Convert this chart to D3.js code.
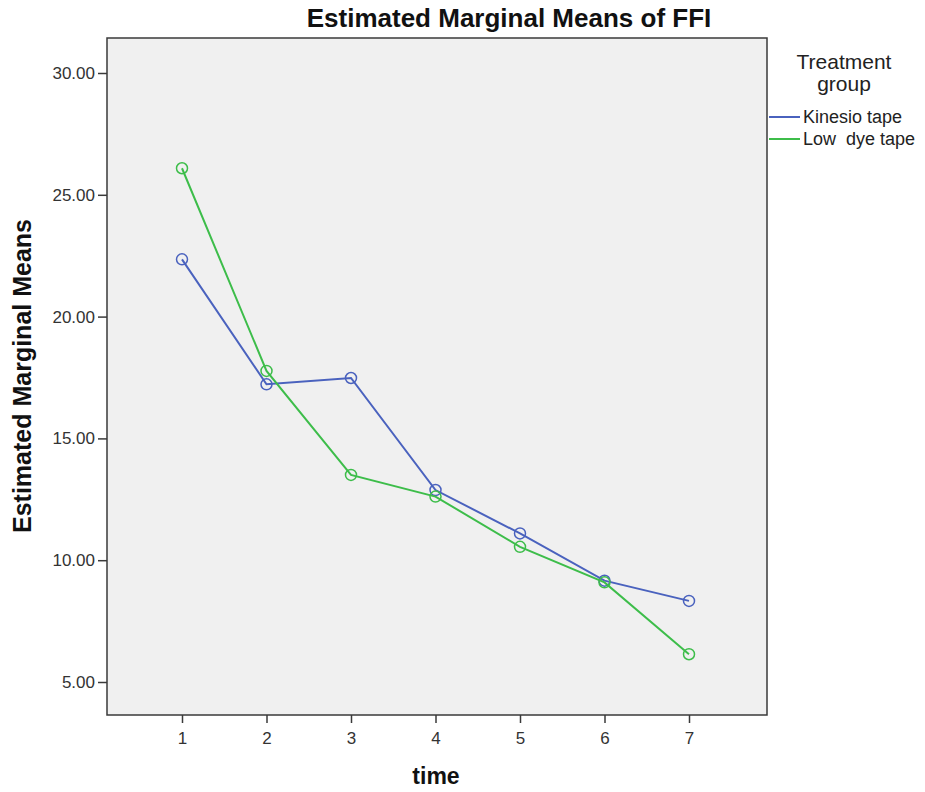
<!DOCTYPE html>
<html>
<head>
<meta charset="utf-8">
<script src="https://cdn.jsdelivr.net/npm/d3@7"></script>
<style>
  body { margin: 0; background: #fff; }
  svg text { font-family: "Liberation Sans", Arial, sans-serif; }
</style>
</head>
<body>
<svg id="chart" width="925" height="792"></svg>
<script>
// Estimated marginal means of FFI by time point and treatment group
const timePoints = [1, 2, 3, 4, 5, 6, 7];
const kinesioTape = [22.35, 17.22, 17.48, 12.88, 11.10, 9.16, 8.33];
const lowDyeTape = [26.09, 17.77, 13.50, 12.61, 10.55, 9.09, 6.14];
const yTicks = [5, 10, 15, 20, 25, 30];
const groupNames = ["Kinesio tape", "Low  dye tape"];
const groupColors = ["#4a62be", "#3dbd4a"];

const svg = d3.select("#chart");
const plot = { left: 107, right: 767, top: 38, bottom: 715 };

const x = d3.scaleLinear().domain([1, 7]).range([182, 689]);
const y = d3.scaleLinear().domain([5, 30]).range([682, 73]);

// plot background and frame
svg.append("rect")
  .attr("x", plot.left).attr("y", plot.top)
  .attr("width", plot.right - plot.left).attr("height", plot.bottom - plot.top)
  .attr("fill", "#f0f0f0").attr("stroke", "#3a3a3a").attr("stroke-width", 1.5);

// y axis
const yAxis = svg.append("g")
  .attr("transform", `translate(${plot.left},0)`)
  .call(d3.axisLeft(y).tickValues(yTicks).tickFormat(d3.format(".2f")).tickSize(9).tickPadding(3));
yAxis.select(".domain").remove();
yAxis.selectAll(".tick line").attr("stroke", "#3a3a3a").attr("stroke-width", 1.5);
yAxis.selectAll(".tick text").attr("font-size", 17).attr("fill", "#333")
  .attr("font-family", "Liberation Sans, Arial, sans-serif");

// x axis
const xAxis = svg.append("g")
  .attr("transform", `translate(0,${plot.bottom})`)
  .call(d3.axisBottom(x).tickValues(timePoints).tickFormat(d3.format("d")).tickSize(8).tickPadding(9));
xAxis.select(".domain").remove();
xAxis.selectAll(".tick line").attr("stroke", "#3a3a3a").attr("stroke-width", 1.5);
xAxis.selectAll(".tick text").attr("font-size", 17).attr("fill", "#333")
  .attr("font-family", "Liberation Sans, Arial, sans-serif");

// series lines and circle markers
const series = [kinesioTape, lowDyeTape];
const line = d3.line().x((d, i) => x(timePoints[i])).y(d => y(d));
series.forEach((vals, s) => {
  const g = svg.append("g");
  g.append("path").datum(vals)
    .attr("d", line).attr("fill", "none")
    .attr("stroke", groupColors[s]).attr("stroke-width", 2);
  g.selectAll("circle").data(vals).join("circle")
    .attr("cx", (d, i) => x(timePoints[i])).attr("cy", d => y(d))
    .attr("r", 5.5).attr("fill", "none")
    .attr("stroke", groupColors[s]).attr("stroke-width", 1.5);
});

// title
svg.append("text")
  .attr("x", 509).attr("y", 27).attr("text-anchor", "middle")
  .attr("font-size", 26).attr("font-weight", "bold").attr("fill", "#111")
  .text("Estimated Marginal Means of FFI");

// axis titles
svg.append("text")
  .attr("transform", "translate(31,376) rotate(-90)").attr("text-anchor", "middle")
  .attr("font-size", 25).attr("font-weight", "bold").attr("fill", "#111")
  .text("Estimated Marginal Means");
svg.append("text")
  .attr("x", 436).attr("y", 784).attr("text-anchor", "middle")
  .attr("font-size", 23).attr("font-weight", "bold").attr("fill", "#111")
  .text("time");

// legend
const legend = svg.append("g");
legend.append("text").attr("x", 844).attr("y", 69).attr("text-anchor", "middle")
  .attr("font-size", 21).attr("fill", "#222").text("Treatment");
legend.append("text").attr("x", 844).attr("y", 91).attr("text-anchor", "middle")
  .attr("font-size", 21).attr("fill", "#222").text("group");
groupNames.forEach((name, i) => {
  const ly = 117 + i * 22;
  legend.append("line").attr("x1", 769).attr("x2", 800).attr("y1", ly).attr("y2", ly)
    .attr("stroke", groupColors[i]).attr("stroke-width", 2);
  legend.append("text").attr("x", 803).attr("y", ly + 6)
    .attr("font-size", 18).attr("fill", "#222")
    .attr("xml:space", "preserve").style("white-space", "pre").text(name);
});
</script>
</body>
</html>
